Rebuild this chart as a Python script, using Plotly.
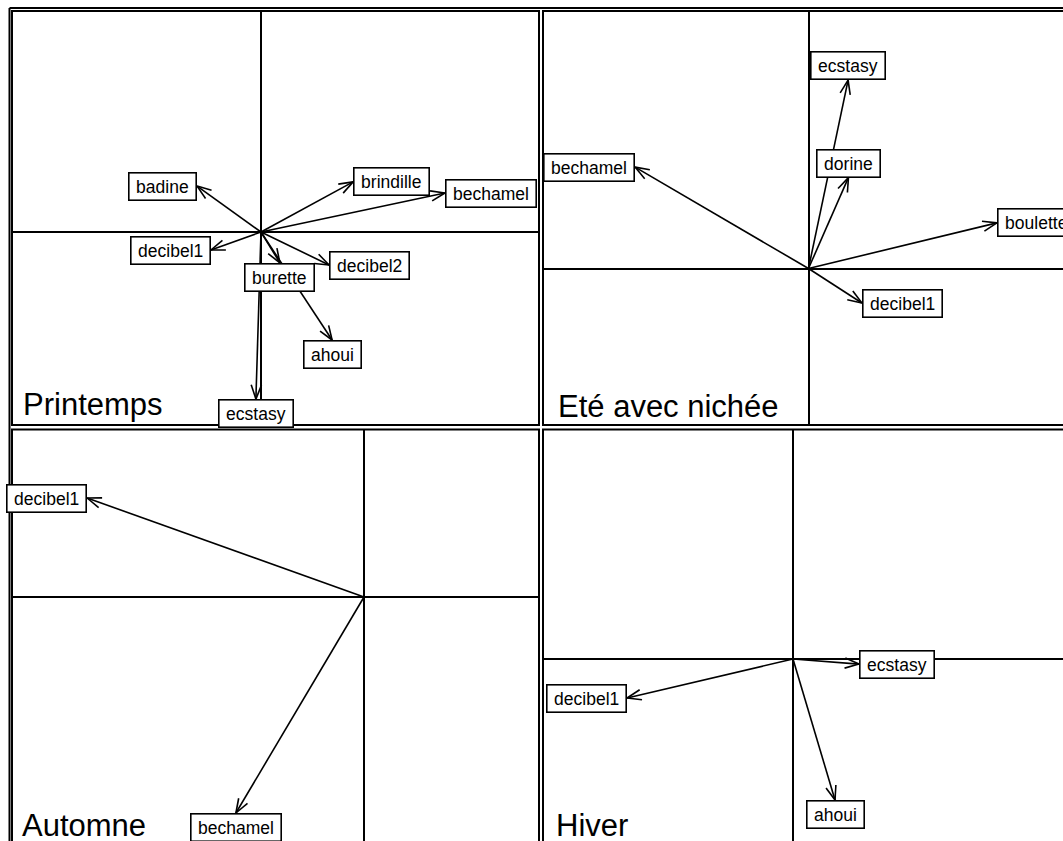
import numpy as np
import plotly.graph_objects as go

W, H = 1063, 841
S = 300.0  # pixels per data unit (same on both axes)

# ---------------- data (arrow tips, in correlation-like units) ----------------
panel_titles = ["Printemps", "Eté avec nichée", "Automne", "Hiver"]

printemps_labels = ["badine", "brindille", "bechamel", "decibel1", "decibel2", "burette", "ahoui", "ecstasy"]
printemps_x = [-0.213, 0.307, 0.613, -0.167, 0.227, 0.063, 0.237, -0.017]
printemps_y = [0.153, 0.167, 0.130, -0.060, -0.110, -0.103, -0.360, -0.557]

ete_labels = ["ecstasy", "dorine", "bechamel", "boulette", "decibel1"]
ete_x = [0.132, 0.133, -0.578, 0.628, 0.178]
ete_y = [0.628, 0.303, 0.338, 0.152, -0.115]

automne_labels = ["decibel1", "bechamel"]
automne_x = [-0.923, -0.427]
automne_y = [0.330, -0.720]

hiver_labels = ["ecstasy", "decibel1", "ahoui"]
hiver_x = [0.220, -0.553, 0.140]
hiver_y = [-0.017, -0.130, -0.470]

# ---------------- layout geometry (pixels) ----------------
panels = [
    dict(box=(12, 11, 539, 425), origin=(261, 232), border=(12, 11, 539, 425)),
    dict(box=(543, 11, 1063, 425), origin=(808.5, 268.5), border=(543, 11, 1080, 425)),
    dict(box=(12, 429.5, 539, 841), origin=(364, 597), border=(12, 429.5, 539, 860)),
    dict(box=(543, 429.5, 1063, 841), origin=(793, 659), border=(543, 429.5, 1080, 860)),
]
datasets = [
    (printemps_labels, printemps_x, printemps_y),
    (ete_labels, ete_x, ete_y),
    (automne_labels, automne_x, automne_y),
    (hiver_labels, hiver_x, hiver_y),
]
title_pos = [(21, 404), (556, 406), (20, 825), (554, 825)]

FONT = "Liberation Sans, Arial, Helvetica, sans-serif"
HEAD_PX = 15.0
HEAD_ANG = np.deg2rad(20)
PAD = "\u2009"

fig = go.Figure()
annotations = []
shapes = []

for i, (p, (labs, xs, ys)) in enumerate(zip(panels, datasets)):
    k = "" if i == 0 else str(i + 1)
    x0, y0, x1, y1 = p["box"]
    cx, cy = p["origin"]
    xr = [(x0 - cx) / S, (x1 - cx) / S]
    yr = [(cy - y1) / S, (cy - y0) / S]
    axis_common = dict(showgrid=False, zeroline=True, zerolinecolor="black", zerolinewidth=1.7,
                       showline=False, showticklabels=False, ticks="", fixedrange=True)
    fig.layout["xaxis" + k] = dict(domain=[x0 / W, x1 / W], range=xr, anchor="y" + k, **axis_common)
    fig.layout["yaxis" + k] = dict(domain=[1 - y1 / H, 1 - y0 / H], range=yr, anchor="x" + k, **axis_common)

    # arrows
    lx, ly = [], []
    L = HEAD_PX / S
    for x, y in zip(xs, ys):
        lx += [0, x, None]
        ly += [0, y, None]
        ang = np.arctan2(y, x)
        for s in (1, -1):
            a = ang + np.pi + s * HEAD_ANG
            lx += [x, x + L * np.cos(a), None]
            ly += [y, y + L * np.sin(a), None]
    fig.add_trace(go.Scatter(x=lx, y=ly, mode="lines", line=dict(color="black", width=1.6),
                             xaxis="x" + k, yaxis="y" + k, hoverinfo="skip", showlegend=False))

    # labels
    for lab, x, y in zip(labs, xs, ys):
        if abs(x) > abs(y):
            xa, ya = ("left" if x > 0 else "right"), "middle"
        else:
            xa, ya = "center", ("bottom" if y > 0 else "top")
        annotations.append(dict(
            x=x, y=y, xref="x" + k, yref="y" + k, text=PAD + lab + PAD,
            showarrow=False, xanchor=xa, yanchor=ya,
            font=dict(family=FONT, size=17.5, color="black"),
            bgcolor="white", bordercolor="black", borderwidth=1.6, borderpad=3))

    # title
    tx, ty = title_pos[i]
    annotations.append(dict(x=tx / W, y=1 - ty / H, xref="paper", yref="paper", text=panel_titles[i],
                            showarrow=False, xanchor="left", yanchor="middle",
                            font=dict(family=FONT, size=31, color="black")))

    bx0, by0, bx1, by1 = p["border"]
    shapes.append(dict(type="rect", xref="paper", yref="paper", x0=bx0 / W, x1=bx1 / W,
                       y0=1 - by1 / H, y1=1 - by0 / H, line=dict(color="black", width=2),
                       fillcolor="rgba(0,0,0,0)", layer="above"))

# outer frame lines
shapes.append(dict(type="line", xref="paper", yref="paper", x0=9.5 / W, x1=1.02, y0=1 - 8 / H, y1=1 - 8 / H,
                   line=dict(color="black", width=2)))
shapes.append(dict(type="line", xref="paper", yref="paper", x0=9.5 / W, x1=9.5 / W, y0=-0.02, y1=1 - 8 / H,
                   line=dict(color="black", width=2)))

fig.update_layout(width=W, height=H, margin=dict(l=0, r=0, t=0, b=0),
                  paper_bgcolor="white", plot_bgcolor="white", showlegend=False,
                  annotations=annotations, shapes=shapes)

fig.write_html("out.html", config={"displayModeBar": False},
               post_script="document.body.style.margin='0';document.body.style.overflow='hidden';")
